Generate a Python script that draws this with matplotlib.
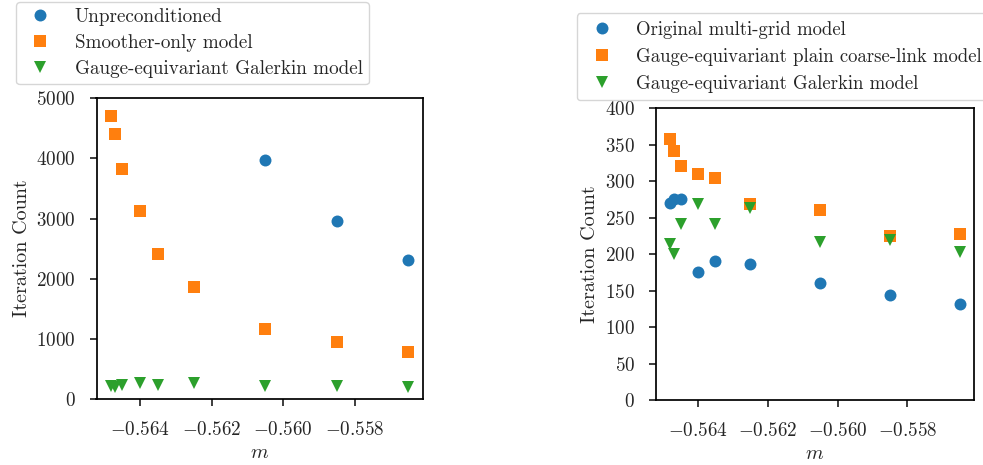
import matplotlib
matplotlib.use("Agg")
import matplotlib.pyplot as plt

# ---- data ----
m_vals = [-0.5648, -0.5647, -0.5645, -0.5640, -0.5635, -0.5625, -0.5605, -0.5585, -0.5565]

# left panel
left_unprec_m = [-0.5605, -0.5585, -0.5565]
left_unprec = [3980, 2955, 2315]
left_smoother = [4700, 4410, 3820, 3120, 2410, 1870, 1170, 950, 780]
left_galerkin = [214, 200, 241, 269, 241, 263, 216, 219, 203]

# right panel
right_orig = [270, 276, 276, 176, 190, 187, 160, 144, 132]
right_plain = [357, 341, 320, 309, 304, 268, 260, 225, 228]
right_galerkin = [214, 200, 241, 269, 241, 263, 216, 219, 203]

left_labels = ["Unpreconditioned", "Smoother-only model", "Gauge-equivariant Galerkin model"]
right_labels = ["Original multi-grid model", "Gauge-equivariant plain coarse-link model",
                "Gauge-equivariant Galerkin model"]
xticks = [-0.564, -0.562, -0.560, -0.558]

plt.rcParams.update({
    "font.family": "serif",
    "font.serif": ["cmr10"],
    "mathtext.fontset": "cm",
    "axes.formatter.use_mathtext": True,
    "axes.unicode_minus": True,
    "font.size": 13.75,
    "axes.linewidth": 1.25,
    "axes.edgecolor": "black",
    "xtick.major.size": 5.0,
    "ytick.major.size": 5.0,
    "xtick.major.width": 1.25,
    "ytick.major.width": 1.25,
    "xtick.major.pad": 10.5,
    "ytick.major.pad": 10.0,
    "text.color": "#262626",
    "xtick.color": "#262626",
    "ytick.color": "#262626",
    "axes.labelcolor": "#262626",
})

W, H = 983, 465
fig = plt.figure(figsize=(W / 100, H / 100), dpi=100)

def rect(x0, y0, x1, y1):
    return [x0 / W, 1 - y1 / H, (x1 - x0) / W, (y1 - y0) / H]

ax1 = fig.add_axes(rect(96.5, 98.3, 423.3, 399))
ax2 = fig.add_axes(rect(655.7, 108, 974, 400.3))

C = ["#1f77b4", "#ff7f0e", "#2ca02c"]
ms = 8.6

h1 = ax1.plot(left_unprec_m, left_unprec, "o", color=C[0], ms=ms, mew=0, label=left_labels[0])[0]
h2 = ax1.plot(m_vals, left_smoother, "s", color=C[1], ms=ms, mew=0, label=left_labels[1])[0]
h3 = ax1.plot(m_vals, left_galerkin, "v", color=C[2], ms=ms, mew=0, label=left_labels[2])[0]
ax1.set_ylim(0, 5000)
ax1.set_yticks([0, 1000, 2000, 3000, 4000, 5000])

g1 = ax2.plot(m_vals, right_orig, "o", color=C[0], ms=ms, mew=0, label=right_labels[0])[0]
g2 = ax2.plot(m_vals, right_plain, "s", color=C[1], ms=ms, mew=0, label=right_labels[1])[0]
g3 = ax2.plot(m_vals, right_galerkin, "v", color=C[2], ms=ms, mew=0, label=right_labels[2])[0]
ax2.set_ylim(0, 400)
ax2.set_yticks(range(0, 401, 50))

for ax in (ax1, ax2):
    ax.set_xticks(xticks)
    ax.set_xlabel(r"$m$", fontsize=14.5, labelpad=4)
    ax.set_ylabel("Iteration Count", fontsize=14.5)

fig.legend(handles=[h1, h2, h3], loc="upper left",
           bbox_to_anchor=(15.7 / W, 1 - 1.7 / H), borderaxespad=0,
           fontsize=13.75, frameon=True, borderpad=0.33, labelspacing=0.42,
           handlelength=1.9, handletextpad=0.85)
fig.legend(handles=[g1, g2, g3], loc="upper left",
           bbox_to_anchor=(576.7 / W, 1 - 13.3 / H), borderaxespad=0,
           fontsize=13.5, frameon=True, borderpad=0.39, labelspacing=0.49,
           handlelength=1.9, handletextpad=0.85)

fig.savefig("out.png", dpi=100)
